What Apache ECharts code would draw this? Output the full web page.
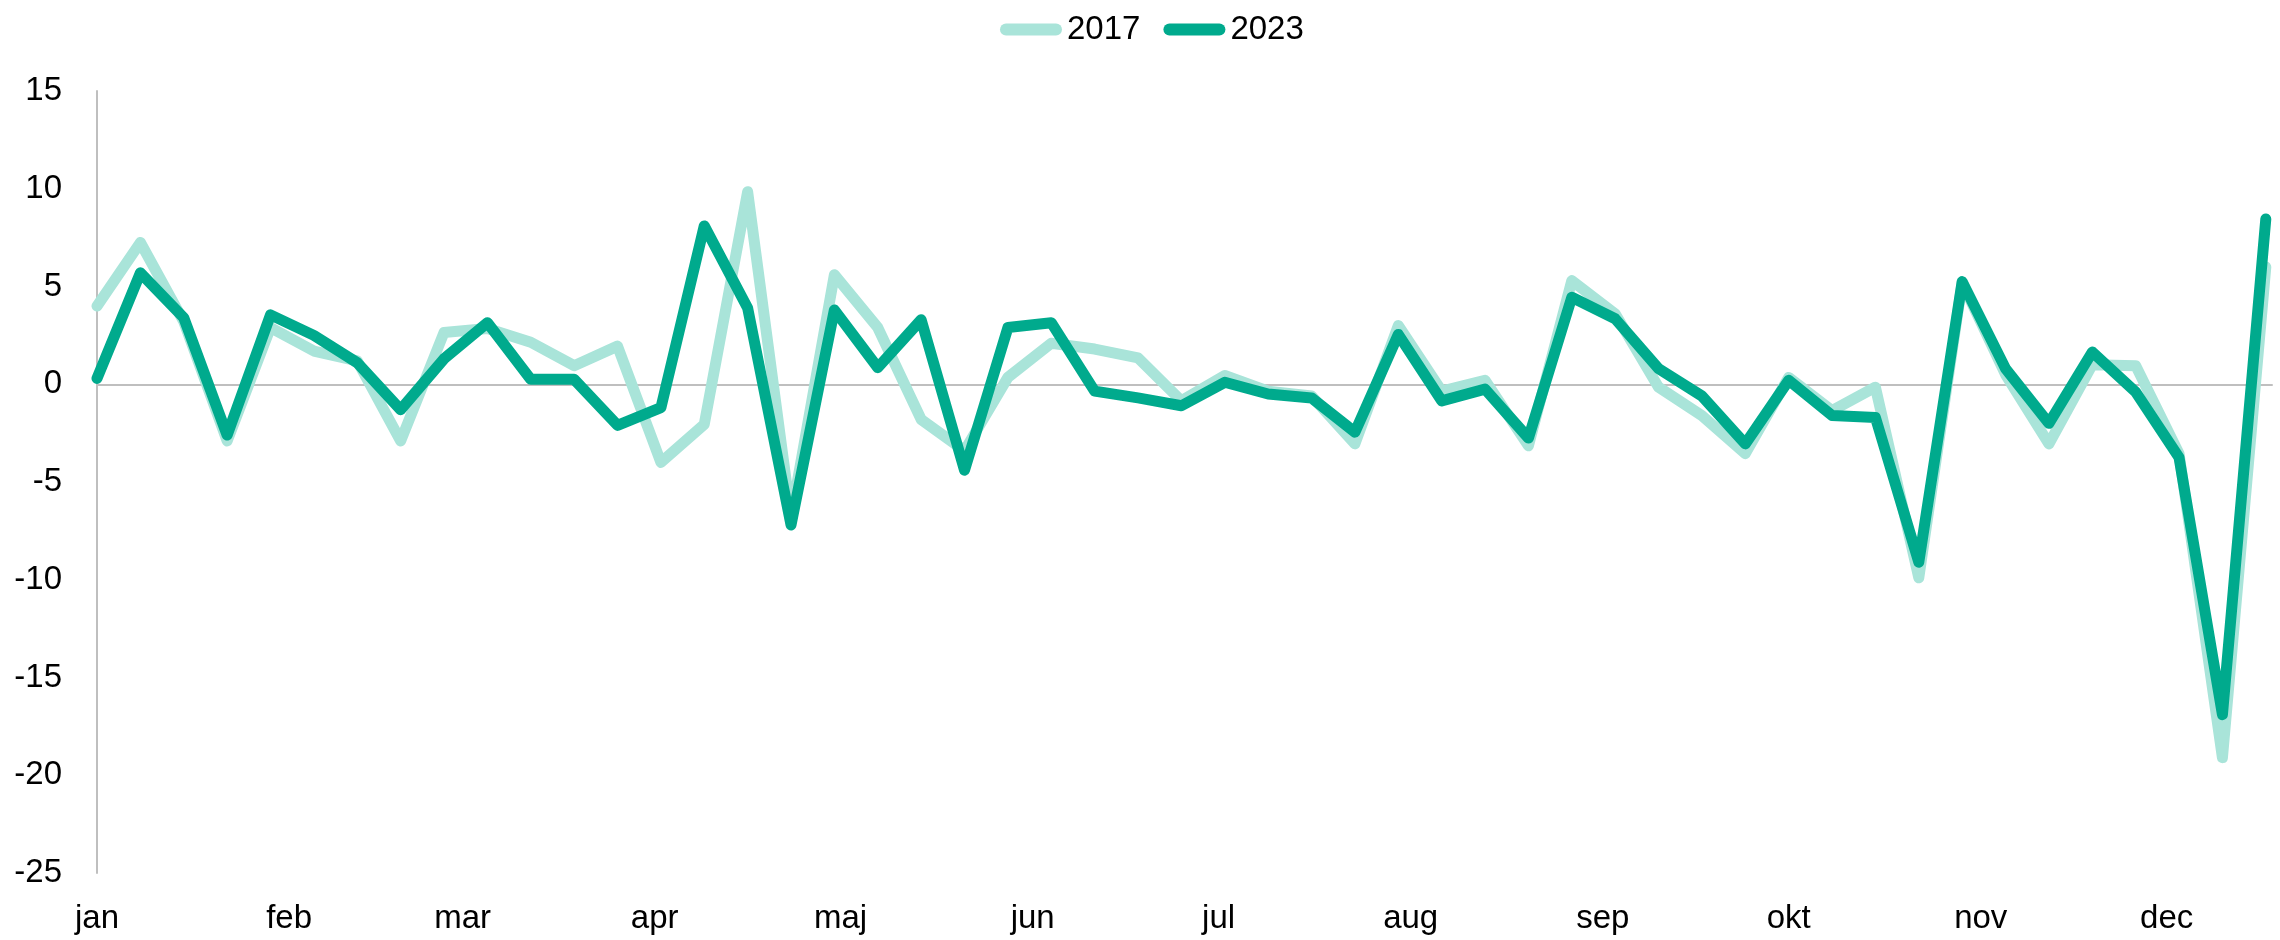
<!DOCTYPE html>
<html>
<head>
<meta charset="utf-8">
<script src="https://cdn.jsdelivr.net/npm/echarts@6/dist/echarts.min.js"></script>
<style>
  html, body { margin: 0; padding: 0; background: #fff; }
  #chart { width: 2280px; height: 940px; }
</style>
</head>
<body>
<div id="chart"></div>
<script>
// Day offset (from 1 January) of each weekly observation
const weekDays = [0, 7, 14, 21, 28, 35, 42, 49, 56, 63, 70, 77, 84, 91, 98, 105, 112,
  119, 126, 133, 140, 147, 154, 161, 168, 175, 182, 189, 196, 203, 210, 217, 224,
  231, 238, 245, 252, 259, 266, 273, 280, 287, 294, 301, 308, 315, 322, 329, 336, 343, 350];

const series2017 = [4.0, 7.25, 3.2, -2.9, 2.9, 1.7, 1.2, -2.9, 2.65, 2.85, 2.15, 0.95, 1.95,
  -4.0, -2.05, 9.85, -6.8, 5.6, 2.9, -1.8, -3.4, 0.35, 2.1, 1.8, 1.35, -0.85, 0.45,
  -0.35, -0.6, -3.05, 3.0, -0.35, 0.2, -3.15, 5.3, 3.6, -0.15, -1.6, -3.55, 0.35,
  -1.35, -0.15, -9.9, 5.2, 0.5, -3.05, 1.0, 0.95, -3.55, -19.1, 6.0];

const series2023 = [0.3, 5.7, 3.4, -2.6, 3.55, 2.5, 1.1, -1.3, 1.3, 3.15, 0.25, 0.25, -2.1,
  -1.2, 8.1, 3.9, -7.2, 3.8, 0.85, 3.3, -4.4, 2.9, 3.15, -0.35, -0.7, -1.1, 0.1,
  -0.5, -0.7, -2.45, 2.55, -0.85, -0.25, -2.75, 4.45, 3.35, 0.8, -0.6, -3.05, 0.2,
  -1.6, -1.7, -9.1, 5.25, 0.8, -2.0, 1.65, -0.4, -3.75, -16.9, 8.45];

const monthStartDays = [0, 31, 59, 90, 120, 151, 181, 212, 243, 273, 304, 334];
const monthLabels = ['jan', 'feb', 'mar', 'apr', 'maj', 'jun', 'jul', 'aug', 'sep', 'okt', 'nov', 'dec'];

const yTicks = { min: -25, max: 15, interval: 5 };
const seriesNames = ['2017', '2023'];

const FONT = '"Liberation Sans", Arial, sans-serif';
const LIGHT = '#A9E4D9';
const DARK = '#00AA8D';
const legendIcon = 'path://M6,0 L56,0 A6,6 0 0 1 56,12 L6,12 A6,6 0 0 1 6,0 Z';

const chart = echarts.init(document.getElementById('chart'), null, { renderer: 'canvas' });

const pairs = (vals) => vals.map((v, i) => [weekDays[i], v]);

chart.setOption({
  animation: false,
  backgroundColor: '#ffffff',
  textStyle: { fontFamily: FONT },
  legend: {
    left: 995,
    top: 8,
    itemWidth: 62,
    itemHeight: 12,
    itemGap: 23,
    textStyle: { fontSize: 33, color: '#000', fontFamily: FONT, lineHeight: 32 },
    data: [
      { name: seriesNames[0], icon: legendIcon, itemStyle: { color: LIGHT } },
      { name: seriesNames[1], icon: legendIcon, itemStyle: { color: DARK } }
    ]
  },
  grid: { left: 97, right: 8, top: 91, bottom: 67 },
  xAxis: [
    {
      type: 'value', min: 0, max: 351,
      axisLine: { show: true, onZero: true, lineStyle: { color: '#bfbfbf', width: 2 } },
      axisTick: { show: false },
      axisLabel: { show: false },
      splitLine: { show: false }
    },
    {
      type: 'value', min: 0, max: 351, position: 'bottom',
      axisLine: { show: false, onZero: false },
      axisTick: { show: false },
      splitLine: { show: false },
      axisLabel: {
        customValues: monthStartDays,
        formatter: (v) => monthLabels[monthStartDays.indexOf(v)],
        fontSize: 33, color: '#000', fontFamily: FONT, margin: 29
      }
    }
  ],
  yAxis: {
    type: 'value', min: yTicks.min, max: yTicks.max, interval: yTicks.interval,
    axisLine: { show: true, onZero: false, lineStyle: { color: '#bfbfbf', width: 2 } },
    axisTick: { show: false },
    splitLine: { show: false },
    axisLabel: { fontSize: 33, color: '#000', fontFamily: FONT, margin: 35 }
  },
  series: [
    {
      name: seriesNames[0], type: 'line', xAxisIndex: 0,
      data: pairs(series2017),
      symbol: 'none', showSymbol: false,
      lineStyle: { color: LIGHT, width: 11, cap: 'round', join: 'round' },
      itemStyle: { color: LIGHT }
    },
    {
      name: seriesNames[1], type: 'line', xAxisIndex: 0,
      data: pairs(series2023),
      symbol: 'none', showSymbol: false,
      lineStyle: { color: DARK, width: 11, cap: 'round', join: 'round' },
      itemStyle: { color: DARK }
    }
  ]
});
</script>
</body>
</html>
